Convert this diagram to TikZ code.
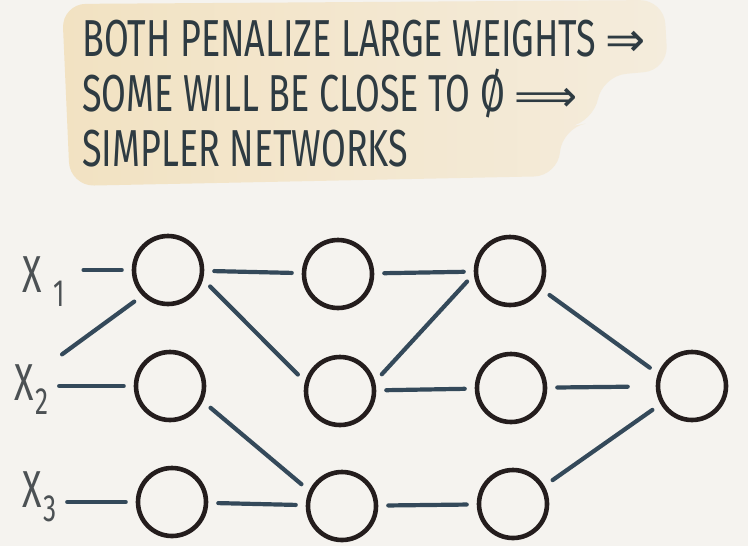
\documentclass[tikz,border=0pt]{standalone}
\usepackage{fontspec}
\newfontfamily\hand{Fira Sans}[FakeStretch=0.69]
\newfontfamily\arrowfont{DejaVu Sans}
\usetikzlibrary{positioning,calc}
\definecolor{paper}{HTML}{F5F3EF}
\definecolor{markerL}{HTML}{F2E2C2}
\definecolor{markerR}{HTML}{F4ECDC}
\definecolor{ink}{HTML}{2E3B42}
\definecolor{ring}{HTML}{241D1D}
\definecolor{wire}{HTML}{34495A}
\definecolor{pencil}{HTML}{4C5154}

\begin{document}
\begin{tikzpicture}[x=0.5pt, y=-0.5pt,
        neuron/.style={draw=ring, circle, line width=2.3pt, minimum size=34pt, inner sep=0pt},
        link/.style={draw=wire, line width=2.1pt, line cap=round, shorten >=5pt, shorten <=5pt},
        inp/.style={text=pencil, font=\hand\fontsize{26}{26}\selectfont, inner sep=0pt, anchor=base west},
        note/.style={text=ink, font=\hand\fontsize{26}{27.5}\selectfont, inner sep=0pt, align=left}]
        % page and marker blob
        \fill[paper] (0,0) rectangle (748,546);
        \useasboundingbox (0,0) rectangle (748,546);
        \shade[left color=markerL, right color=markerR, rounded corners=12pt]
            (62,4) -- (664,0) -- (668,70) -- (602,76) -- (594,122) -- (562,128) -- (558,176) -- (70,186) -- cycle;

        % heading
        \node[note, anchor=north west] (head) at (82,20)
            {BOTH PENALIZE LARGE WEIGHTS {\arrowfont\fontsize{24}{20}\selectfont ⇒}\\
             SOME WILL BE CLOSE TO Ø {\arrowfont\fontsize{22}{20}\selectfont ⟹}\\
             SIMPLER NETWORKS};

        % inputs
        \node[inp] (x1) at (22,292) {X\hspace{6pt}\raisebox{-7pt}{\fontsize{19}{19}\selectfont 1}};
        \node[inp] (x2) at (14,400) {X\hspace{1pt}\raisebox{-7pt}{\fontsize{19}{19}\selectfont 2}};
        \node[inp] (x3) at (22,507) {X\hspace{1pt}\raisebox{-7pt}{\fontsize{19}{19}\selectfont 3}};

        % layers
        \node[neuron] (a1) at (168,270) {};
        \node[neuron] (a2) at (170,386) {};
        \node[neuron] (a3) at (172,502) {};
        \node[neuron] (b1) at (338,274) {};
        \node[neuron] (b2) at (340,391) {};
        \node[neuron] (b3) at (342,506) {};
        \node[neuron] (c1) at (510,271) {};
        \node[neuron] (c2) at (511,388) {};
        \node[neuron] (c3) at (513,504) {};
        \node[neuron] (out) at (692,386) {};

        % connections
        \draw[link, shorten <=9pt] (x1.east |- a1) -- (a1);
        \draw[link, shorten <=8pt] (x2.north east) -- (a1.225);
        \draw[link] (x2.east |- a2) -- (a2);
        \draw[link] (x3.east |- a3) -- (a3);
        \draw[link] (a1) -- (b1);
        \draw[link] (a1.-15) -- (b2.165);
        \draw[link] (a2.-25) -- (b3.155);
        \draw[link] (a3) -- (b3);
        \draw[link] (b1) -- (c1);
        \draw[link] (b2.15) -- (c1.185);
        \draw[link] (b2) -- (c2);
        \draw[link] (b3) -- (c3);
        \draw[link] (c1.-30) -- (out.160);
        \draw[link, shorten >=14pt] (c2) -- (out);
        \draw[link] (c3.30) -- (out.210);
    \end{tikzpicture}
\end{document}
